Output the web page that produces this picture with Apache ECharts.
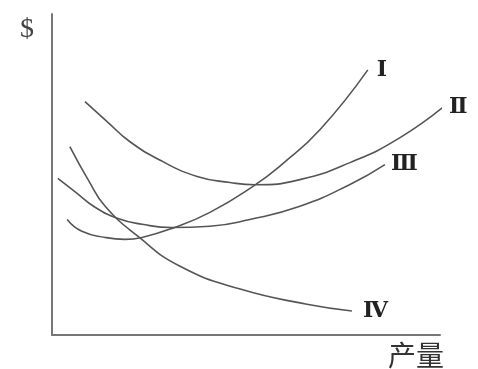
<!DOCTYPE html>
<html>
<head>
<meta charset="utf-8">
<script src="https://cdn.jsdelivr.net/npm/echarts@6/dist/echarts.min.js"></script>
<style>
  html, body { margin: 0; padding: 0; background: #fff; }
  #chart { width: 478px; height: 369px; }
</style>
</head>
<body>
<div id="chart"></div>
<script>
// curve points in chart units (x: output 0-100, y: $ 0-100)
const curveNames = ['Ⅰ', 'Ⅱ', 'Ⅲ', 'Ⅳ'];

const curveI = [
  [3.9, 36.0], [7.7, 32.3], [13.7, 30.4], [18.8, 29.8], [23.2, 30.4], [30.9, 33.2],
  [40.7, 38.2], [51.8, 46.3], [59.5, 53.4], [69.1, 64.0], [81.4, 82.6]
];
const curveII = [
  [8.5, 72.7], [14.2, 66.5], [20.1, 60.2], [28.6, 54.0], [37.4, 49.4], [45.9, 47.5],
  [52.3, 46.8], [63.9, 48.4], [76.8, 53.7], [89.7, 61.5], [101.8, 72.0]
];
const curveIII = [
  [1.5, 48.8], [5.9, 44.7], [11.1, 39.8], [17.0, 36.3], [23.2, 34.5], [30.9, 33.5],
  [40.7, 33.9], [51.0, 36.0], [63.9, 40.1], [76.8, 46.9], [85.8, 53.1]
];
const curveIV = [
  [4.6, 58.7], [9.3, 48.4], [13.7, 40.1], [22.2, 30.7], [33.0, 21.4],
  [48.5, 14.3], [65.7, 9.6], [77.3, 7.5]
];

const curves = [curveI, curveII, curveIII, curveIV];
const labelGaps = [9, 7, 6, 11];

const chart = echarts.init(document.getElementById('chart'));

const axisLine = { lineStyle: { color: '#777', width: 2 } };

chart.setOption({
  animation: false,
  grid: { left: 52, top: 14, right: 38, bottom: 33 },
  xAxis: {
    type: 'value',
    min: 0,
    max: 100,
    name: '产量',
    nameLocation: 'end',
    nameGap: 4,
    nameTextStyle: {
      fontFamily: 'Noto Sans CJK SC',
      fontSize: 28,
      color: '#333',
      align: 'right',
      verticalAlign: 'top',
      padding: [6, 0, 0, 0]
    },
    axisLine: axisLine,
    axisTick: { show: false },
    axisLabel: { show: false },
    splitLine: { show: false }
  },
  yAxis: {
    type: 'value',
    min: 0,
    max: 100,
    name: '$',
    nameLocation: 'end',
    nameGap: -2,
    nameTextStyle: {
      fontFamily: 'Liberation Serif',
      fontSize: 28,
      color: '#444',
      align: 'right',
      verticalAlign: 'top',
      padding: [0, 18, 0, 0]
    },
    axisLine: axisLine,
    axisTick: { show: false },
    axisLabel: { show: false },
    splitLine: { show: false }
  },
  series: curves.map((data, i) => ({
    name: curveNames[i],
    type: 'line',
    data: data,
    smooth: 0.5,
    symbol: 'none',
    clip: false,
    lineStyle: { color: '#555', width: 1.6 },
    endLabel: {
      show: true,
      formatter: '{a}',
      distance: labelGaps[i],
      fontFamily: 'DejaVu Serif',
      fontWeight: 'bold',
      fontSize: 22,
      color: '#222'
    }
  }))
});
</script>
</body>
</html>
